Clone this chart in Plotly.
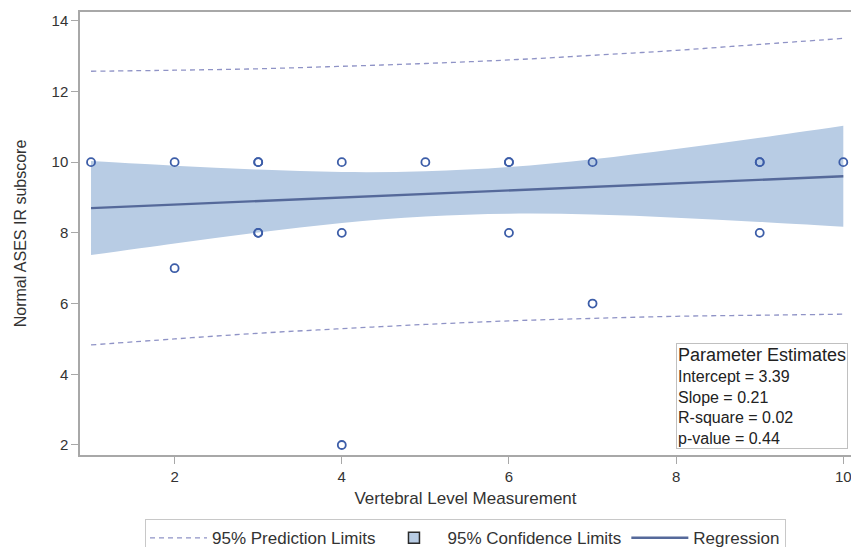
import plotly.graph_objects as go

# Observed data points
obs_x = [1, 2, 2, 3, 3, 3, 3, 4, 4, 4, 5, 6, 6, 6, 7, 7, 9, 9, 9, 10]
obs_y = [10, 10, 7, 10, 10, 8, 8, 10, 8, 2, 10, 10, 10, 8, 10, 6, 10, 10, 8, 10]

# Fit curve and limits
fit_x = [1, 2, 3, 4, 5, 6, 7, 8, 9, 10]
reg_y = [8.70, 8.80, 8.90, 9.00, 9.10, 9.20, 9.30, 9.40, 9.50, 9.60]
cl_upper = [10.03, 9.90, 9.79, 9.72, 9.74, 9.86, 10.08, 10.37, 10.69, 11.03]
cl_lower = [7.37, 7.70, 8.01, 8.28, 8.46, 8.54, 8.52, 8.43, 8.31, 8.17]
pl_upper = [12.57, 12.60, 12.64, 12.71, 12.79, 12.89, 13.02, 13.16, 13.33, 13.50]
pl_lower = [4.83, 5.00, 5.16, 5.29, 5.41, 5.51, 5.58, 5.64, 5.67, 5.70]

x_ticks = [2, 4, 6, 8, 10]
y_ticks = [2, 4, 6, 8, 10, 12, 14]

stats_title = "Parameter Estimates"
stats_lines = ["Intercept = 3.39", "Slope = 0.21", "R-square = 0.02", "p-value = 0.44"]

font_fam = "Liberation Sans, Arial, sans-serif"
band_col = "#b8cce4"
line_col = "#55699a"
mark_col = "#3c5da8"
pred_col = "#8f93c6"
text_col = "#333333"

fig = go.Figure()

# Prediction limits
fig.add_trace(go.Scatter(x=fit_x, y=pl_upper, mode="lines", line_shape="spline",
                         line=dict(color=pred_col, width=1.3, dash="5px,4px"),
                         name="95% Prediction Limits", legendgroup="pl"))
fig.add_trace(go.Scatter(x=fit_x, y=pl_lower, mode="lines", line_shape="spline",
                         line=dict(color=pred_col, width=1.3, dash="5px,4px"),
                         name="95% Prediction Limits", legendgroup="pl", showlegend=False))

# Confidence band (lower edge, then upper edge filled to it)
fig.add_trace(go.Scatter(x=fit_x, y=cl_lower, mode="lines", line_shape="spline",
                         line=dict(color=band_col, width=0), showlegend=False,
                         hoverinfo="skip"))
fig.add_trace(go.Scatter(x=fit_x, y=cl_upper, mode="lines", line_shape="spline",
                         fill="tonexty", fillcolor=band_col,
                         line=dict(color=band_col, width=0), showlegend=False,
                         hoverinfo="skip"))
# legend entry for the band
fig.add_trace(go.Scatter(x=[None], y=[None], mode="markers",
                         marker=dict(symbol="square", size=11, color=band_col,
                                     line=dict(color="#2a2a2a", width=1.5)),
                         name="95% Confidence Limits"))

# Regression line
fig.add_trace(go.Scatter(x=fit_x, y=reg_y, mode="lines",
                         line=dict(color=line_col, width=2.4),
                         name="Regression"))

# Observations
fig.add_trace(go.Scatter(x=obs_x, y=obs_y, mode="markers",
                         marker=dict(symbol="circle-open", size=8, color=mark_col,
                                     line=dict(width=1.8, color=mark_col)),
                         showlegend=False))

fig.add_annotation(
    x=1, xref="paper", y=0.0135, yref="paper", xanchor="right", yanchor="bottom",
    xshift=-3,
    text="<span style='font-size:18px'>" + stats_title + "</span><br>" + "<br>".join(stats_lines),
    showarrow=False, align="left", bordercolor="#c0c0c0", borderwidth=1,
    borderpad=1, bgcolor="white",
    font=dict(family=font_fam, size=16, color="#222222"))

axis_common = dict(showline=True, linecolor="#a8a8a8", linewidth=1.5, mirror=True,
                   ticks="outside", ticklen=7, tickcolor="#a8a8a8", showgrid=False,
                   zeroline=False, ticklabeloverflow="allow",
                   tickfont=dict(family=font_fam, size=15, color=text_col))

fig.update_layout(
    width=851, height=547,
    margin=dict(l=80, r=0, t=12, b=92, autoexpand=False),
    plot_bgcolor="white", paper_bgcolor="white",
    xaxis=dict(range=[0.868, 10.092], tickvals=x_ticks,
               title=dict(text="Vertebral Level Measurement", standoff=8,
                          font=dict(family=font_fam, size=17, color=text_col)),
               **axis_common),
    yaxis=dict(range=[1.717, 14.246], tickvals=y_ticks,
               title=dict(text="Normal ASES IR subscore", standoff=21,
                          font=dict(family=font_fam, size=16, color=text_col)),
               **axis_common),
    legend=dict(orientation="h", x=0.5, xanchor="center", y=-0.145, yanchor="top",
                bordercolor="#c8c8c8", borderwidth=1, itemwidth=57,
                font=dict(family=font_fam, size=17, color=text_col),
                tracegroupgap=0),
    showlegend=True,
)

fig.write_html("out.html", config={"displayModeBar": False},
               post_script="document.body.style.margin='0';document.body.style.overflow='hidden';")
